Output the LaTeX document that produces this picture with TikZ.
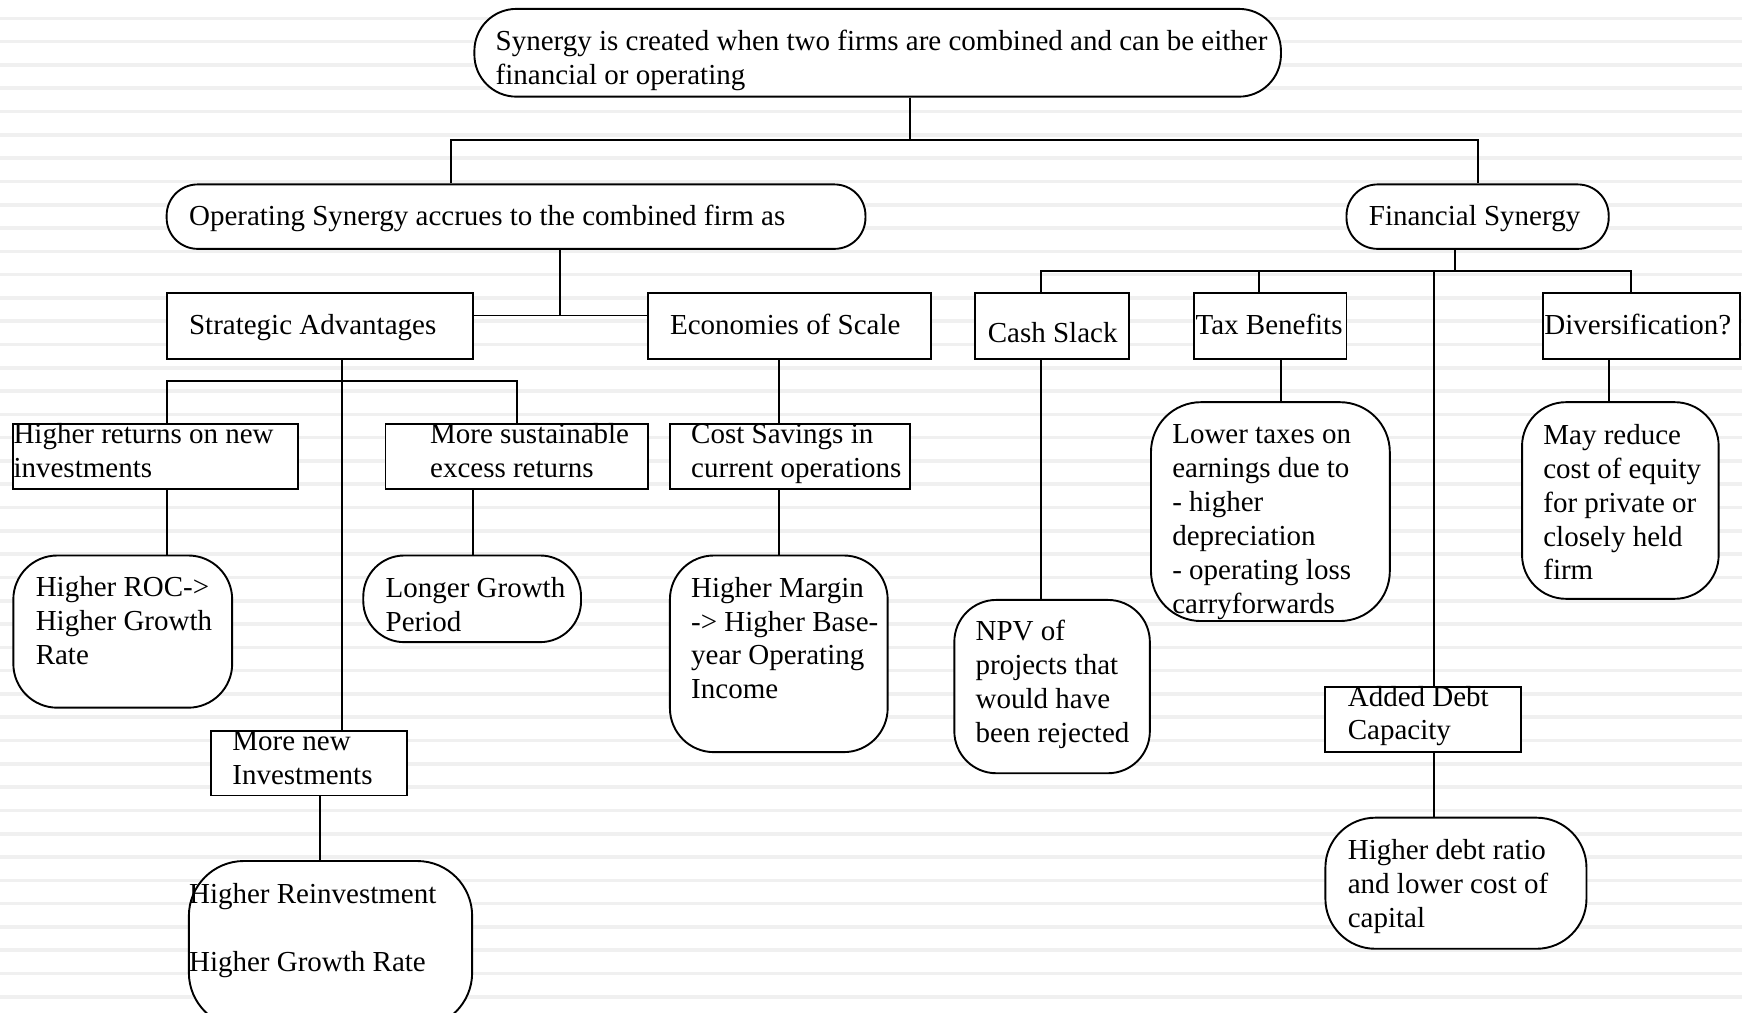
\documentclass[tikz,border=0pt]{standalone}
\usepackage{fontspec}
\setmainfont{Liberation Serif}
\usetikzlibrary{fit}
\newcommand\tfnt{\fontsize{29}{33.9}\selectfont}
\begin{document}
\begin{tikzpicture}[x=1.11097pt, y=-1.11097pt,
  shp/.style={draw, fill=white, inner sep=0pt, line width=1.9pt},
  conn/.style={line width=1.9pt},
  txt/.style={anchor=base west, inner sep=0pt, align=left, font=\tfnt},
  stripe/.style={line width=3.6pt, black!6}]
\useasboundingbox (0,0) rectangle (1568,911);
\fill[white] (0,0) rectangle (1568,911);
\foreach \k in {0,...,42} \draw[stripe] (0,16.5+20.97*\k) -- (1568,16.5+20.97*\k);

% nodes (shapes)
\node[shp, fit={(427,8)(1153,87)}, rounded corners=42pt] (top) {};
\node[shp, fit={(150,166)(779,224)}, rounded corners=31pt] (op) {};
\node[shp, fit={(1212,166)(1448,224)}, rounded corners=31pt] (fin) {};
\node[shp, fit={(150,264)(426,323)}] (strat) {};
\node[shp, fit={(583,264)(838,323)}] (econ) {};
\node[shp, fit={(878,264)(1016,323)}] (cash) {};
\node[shp, fit={(1075,264)(1212,323)}] (tax) {};
\node[shp, fit={(1389,264)(1566,323)}] (div) {};
\node[shp, fit={(12,382)(268,440)}] (hr) {};
\node[shp, fit={(347,382)(583,440)}] (ms) {};
\node[shp, fit={(603,382)(819,440)}] (cs) {};
\node[shp, fit={(12,500)(209,637)}, rounded corners=44pt] (roc) {};
\node[shp, fit={(327,500)(523,578)}, rounded corners=41pt] (lg) {};
\node[shp, fit={(603,500)(799,677)}, rounded corners=44pt] (hm) {};
\node[shp, fit={(190,658)(366,716)}] (mn) {};
\node[shp, fit={(170,775)(425,925)}, rounded corners=55pt] (hre) {};
\node[shp, fit={(859,540)(1035,696)}, rounded corners=42pt] (npv) {};
\node[shp, fit={(1036,362)(1251,559)}, rounded corners=50pt] (lt) {};
\node[shp, fit={(1370,362)(1547,539)}, rounded corners=44pt] (mr) {};
\node[shp, fit={(1193,618)(1369,677)}] (adc) {};
\node[shp, fit={(1193,736)(1428,854)}, rounded corners=50pt] (hd) {};

% texts (base = baseline of the last line)
\node[txt] (top-t) at (446,76) {Synergy is created when two firms are combined and can be either\\financial or operating};
\node[txt] (op-t) at (170,203) {Operating Synergy accrues to the combined firm as};
\node[txt] (fin-t) at (1232,203) {Financial Synergy};
\node[txt] (strat-t) at (170,301) {Strategic Advantages};
\node[txt] (econ-t) at (603,301) {Economies of Scale};
\node[txt] (cash-t) at (889,308) {Cash Slack};
\node[txt] (tax-t) at (1076,301) {Tax Benefits};
\node[txt] (div-t) at (1390,301) {Diversification?};
\node[txt] (hr-t) at (12,430) {Higher returns on new\\investments};
\node[txt] (ms-t) at (387,430) {More sustainable\\excess returns};
\node[txt] (cs-t) at (622,430) {Cost Savings in\\current operations};
\node[txt] (roc-t) at (32,598) {Higher ROC->\\Higher Growth\\Rate};
\node[txt] (lg-t) at (347,568) {Longer Growth\\Period};
\node[txt] (hm-t) at (622,629) {Higher Margin\\-> Higher Base-\\year Operating\\Income};
\node[txt] (mn-t) at (209,706) {More new\\Investments};
\node[txt] (hre-t) at (170,874) {Higher Reinvestment\\[33.9pt]Higher Growth Rate};
\node[txt] (npv-t) at (878,668) {NPV of\\projects that\\would have\\been rejected};
\node[txt] (lt-t) at (1055,552) {Lower taxes on\\earnings due to\\- higher\\depreciation\\- operating loss\\carryforwards};
\node[txt] (mr-t) at (1389,522) {May reduce\\cost of equity\\for private or\\closely held\\firm};
\node[txt] (adc-t) at (1213,666) {Added Debt\\Capacity};
\node[txt] (hd-t) at (1213,835) {Higher debt ratio\\and lower cost of\\capital};

% connectors
\coordinate (j0) at (819,126);
\coordinate (jop) at (406,126);
\coordinate (jfin) at (1330,126);
\draw[conn] (top.south -| j0) -- (j0);
\draw[conn] (op.north -| jop) -- (jop) -- (jfin) -- (fin.north -| jfin);

\coordinate (j1) at (504,284);
\draw[conn] (op.south -| j1) -- (j1);
\draw[conn] (strat.east |- j1) -- (econ.west |- j1);

\coordinate (j2) at (308,343);
\coordinate (j2a) at (150,343);
\coordinate (j2b) at (465,343);
\draw[conn] (strat.south -| j2) -- (mn.north -| j2);
\draw[conn] (hr.north -| j2a) -- (j2a) -- (j2b) -- (ms.north -| j2b);

\coordinate (x3) at (701,0);
\draw[conn] (econ.south -| x3) -- (cs.north -| x3);
\draw[conn] (cs.south -| x3) -- (hm.north -| x3);
\coordinate (x4) at (150,0);
\draw[conn] (hr.south -| x4) -- (roc.north -| x4);
\coordinate (x5) at (426,0);
\draw[conn] (ms.south -| x5) -- (lg.north -| x5);
\coordinate (x6) at (288,0);
\draw[conn] (mn.south -| x6) -- (hre.north -| x6);

\coordinate (k0) at (1310,244);
\coordinate (k1) at (937,244);
\coordinate (k2) at (1133,244);
\coordinate (k3) at (1468,244);
\coordinate (k4) at (1291,244);
\draw[conn] (fin.south -| k0) -- (k0);
\draw[conn] (cash.north -| k1) -- (k1) -- (k3) -- (div.north -| k3);
\draw[conn] (k2) -- (tax.north -| k2);
\draw[conn] (k4) -- (adc.north -| k4);
\draw[conn] (cash.south -| k1) -- (npv.north -| k1);
\coordinate (x7) at (1153,0);
\draw[conn] (tax.south -| x7) -- (lt.north -| x7);
\coordinate (x8) at (1448,0);
\draw[conn] (div.south -| x8) -- (mr.north -| x8);
\draw[conn] (adc.south -| k4) -- (hd.north -| k4);
\end{tikzpicture}
\end{document}
